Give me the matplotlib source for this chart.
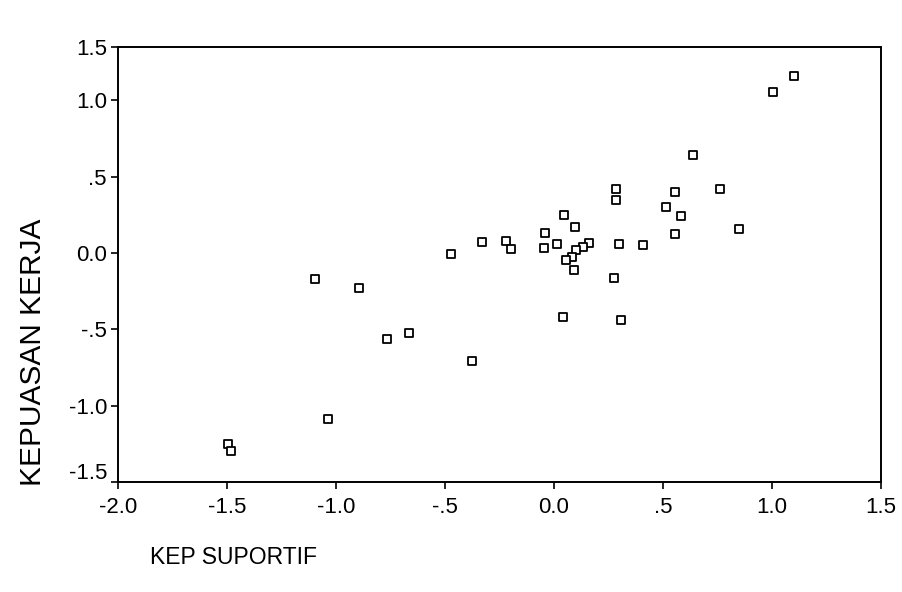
import matplotlib
matplotlib.use("Agg")
import matplotlib.pyplot as plt
from matplotlib.transforms import ScaledTranslation

# KEP SUPORTIF (x) vs KEPUASAN KERJA (y)
kep_suportif = [1.10, 1.006, 0.639, 0.283, 0.283, 0.557, 0.761, 0.512, 0.581, 0.555,
                0.85, 0.044, 0.096, -0.04, -0.047, 0.014, -0.219, -0.197, -0.33, 0.30,
                0.41, 0.161, 0.133, 0.10, 0.084, 0.054, 0.093, 0.277, 0.04, 0.306,
                -0.474, -1.098, -0.893, -0.765, -0.665, -0.375, -1.037, -1.494, -1.482]
kepuasan_kerja = [1.16, 1.058, 0.645, 0.42, 0.348, 0.40, 0.42, 0.30, 0.243, 0.125,
                  0.155, 0.249, 0.173, 0.133, 0.031, 0.061, 0.081, 0.028, 0.07, 0.057,
                  0.052, 0.063, 0.041, 0.02, -0.024, -0.046, -0.111, -0.164, -0.42, -0.44,
                  -0.007, -0.173, -0.227, -0.56, -0.527, -0.708, -1.09, -1.248, -1.296]

x_ticks = [-2.0, -1.5, -1.0, -0.5, 0.0, 0.5, 1.0, 1.5]
x_labels = ["-2.0", "-1.5", "-1.0", "-.5", "0.0", ".5", "1.0", "1.5"]
# the scanned axis stops at ~1.35 but its top corner is labelled 1.5
y_ticks = [-1.5, -1.0, -0.5, 0.0, 0.5, 1.0, 1.35]
y_labels = ["-1.5", "-1.0", "-.5", "0.0", ".5", "1.0", "1.5"]

plt.rcParams["font.family"] = ["Liberation Sans", "DejaVu Sans"]

fig = plt.figure(figsize=(9.02, 5.92), dpi=100)
ax = fig.add_axes([118 / 902, 110 / 592, 763 / 902, 435 / 592])

ax.scatter(kep_suportif, kepuasan_kerja, marker="s", s=28, facecolors="white",
           edgecolors="black", linewidths=1.3, zorder=3)

ax.set_xlim(-2.0, 1.5)
ax.set_ylim(-1.5, 1.35)
ax.set_xticks(x_ticks)
ax.set_xticklabels(x_labels)
ax.set_yticks(y_ticks)
ax.set_yticklabels(y_labels)
ax.tick_params(axis="both", direction="out", length=5, width=1.2, labelsize=16,
               colors="black")
ax.tick_params(axis="x", pad=6)
ax.tick_params(axis="y", pad=3)

# bottom y label sits a bit above the corner in the original
lab = ax.get_yticklabels()[0]
lab.set_transform(lab.get_transform() + ScaledTranslation(0, 11 / 100, fig.dpi_scale_trans))

for spine in ax.spines.values():
    spine.set_linewidth(1.4)
    spine.set_color("black")

fig.text(150 / 902, 1 - 557 / 592, "KEP SUPORTIF", fontsize=16.5, ha="left", va="center")
fig.text(33 / 902, 1 - 352 / 592, "KEPUASAN KERJA", fontsize=21.5, rotation=90,
         ha="center", va="center")

fig.savefig("out.png", dpi=100, facecolor="white")
